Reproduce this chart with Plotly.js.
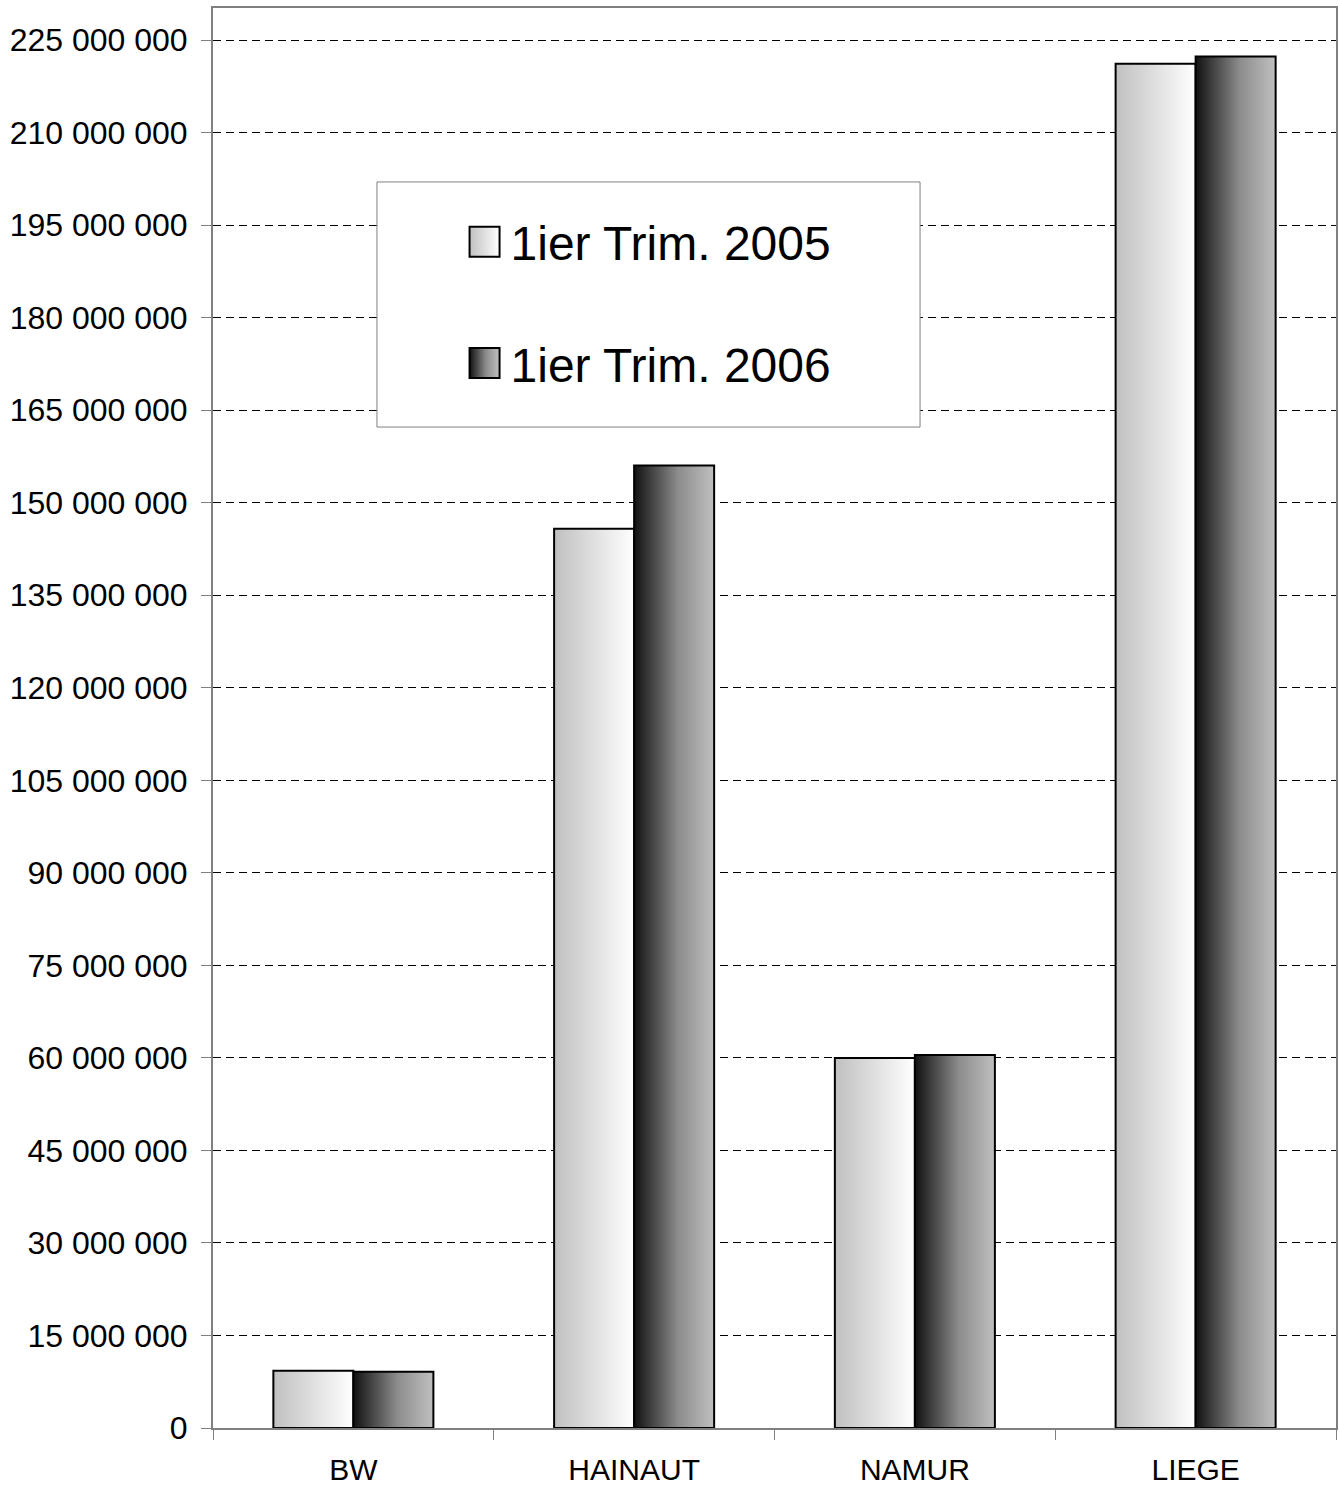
<!DOCTYPE html>
<html>
<head>
<meta charset="utf-8">
<script src="https://cdn.plot.ly/plotly-3.0.1.min.js"></script>
<style>
html,body{margin:0;padding:0;background:#fff;}
#chart{width:1340px;height:1486px;}
</style>
</head>
<body>
<svg width="0" height="0" style="position:absolute">
  <defs>
    <linearGradient id="grad2005" x1="0" y1="0" x2="1" y2="0">
      <stop offset="0" stop-color="#c0c0c0"/>
      <stop offset="1" stop-color="#ffffff"/>
    </linearGradient>
    <linearGradient id="grad2006" x1="0" y1="0" x2="1" y2="0">
      <stop offset="0" stop-color="#111111"/>
      <stop offset="0.55" stop-color="#8c8c8c"/>
      <stop offset="1" stop-color="#c0c0c0"/>
    </linearGradient>
  </defs>
</svg>
<div id="chart"></div>
<script>
const categories = ['BW', 'HAINAUT', 'NAMUR', 'LIEGE'];
const seriesNames = ['1ier Trim. 2005', '1ier Trim. 2006'];
const trim2005 = [9300000, 145800000, 60000000, 221150000];
const trim2006 = [9100000, 156050000, 60450000, 222350000];
const yTickStep = 15000000;

const font = 'Liberation Sans, Arial, sans-serif';
const gradIds = ['grad2005', 'grad2006'];
const baseColors = ['#e0e0e0', '#666666'];

const traces = [trim2005, trim2006].map((vals, i) => ({
  type: 'bar',
  name: seriesNames[i],
  x: categories,
  y: vals,
  legendgroup: 'g' + i,
  marker: {color: baseColors[i], line: {color: '#000000', width: 2}},
  hoverinfo: 'skip'
}));

const layout = {
  width: 1340,
  height: 1486,
  margin: {l: 213, r: 4, t: 8, b: 58},
  paper_bgcolor: '#ffffff',
  plot_bgcolor: '#ffffff',
  separators: ', ',
  barmode: 'group',
  bargap: 0.43,
  bargroupgap: 0,
  font: {family: font, color: '#000000'},
  showlegend: true,
  legend: {
    x: 0.224, xanchor: 'left',
    y: 0.862, yanchor: 'top',
    bgcolor: 'rgba(0,0,0,0)',
    borderwidth: 0,
    font: {family: font, size: 48, color: '#000000'},
    tracegroupgap: 56,
    traceorder: 'grouped'
  },
  xaxis: {
    type: 'category',
    showline: true, linecolor: '#808080', linewidth: 2, mirror: true,
    ticks: 'outside', tickson: 'boundaries', ticklen: 10, tickcolor: '#808080', tickwidth: 1,
    showgrid: false, zeroline: false,
    tickfont: {family: font, size: 30, color: '#000000'},
    ticklabelstandoff: 14
  },
  yaxis: {
    range: [0, 230200000],
    dtick: yTickStep, tick0: 0,
    tickformat: ',d',
    showline: true, linecolor: '#808080', linewidth: 2, mirror: true,
    ticks: 'outside', ticklen: 10, tickcolor: '#808080', tickwidth: 1,
    showgrid: true, gridcolor: '#000000', gridwidth: 1, griddash: '8px,5px',
    zeroline: false,
    tickfont: {family: font, size: 32, color: '#000000'},
    ticklabelstandoff: 7
  },
  shapes: [{
    type: 'rect', xref: 'paper', yref: 'paper',
    x0: 0.146, x1: 0.6296, y0: 0.7049, y1: 0.8775,
    fillcolor: '#ffffff', line: {color: '#808080', width: 1},
    layer: 'above'
  }]
};

Plotly.newPlot('chart', traces, layout, {displayModeBar: false, staticPlot: true}).then(gd => {
  const barTraces = gd.querySelectorAll('.barlayer .trace.bars');
  barTraces.forEach((t, i) => {
    t.querySelectorAll('.point path').forEach(p => {
      p.style.fill = 'url(#' + gradIds[i] + ')';
    });
  });
  const legTraces = gd.querySelectorAll('.legend .traces');
  legTraces.forEach((t, i) => {
    t.querySelectorAll('.legendpoints path').forEach(p => {
      p.setAttribute('d', 'M15,15H-15V-15H15Z');
      p.style.fill = 'url(#' + gradIds[i] + ')';
      p.style.stroke = '#000000';
      p.style.strokeWidth = '2px';
    });
    t.querySelectorAll('.legendtext').forEach(tx => {
      const x0 = parseFloat(tx.getAttribute('x') || '0');
      tx.setAttribute('x', x0 + 6);
    });
  });
});
</script>
</body>
</html>
